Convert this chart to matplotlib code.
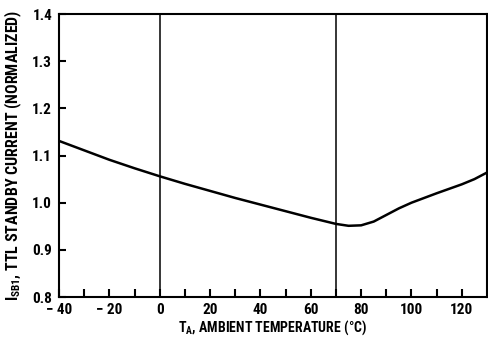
import numpy as np
import matplotlib.pyplot as plt

# curve
temp = [-40, -30, -20, -10, 0, 10, 20, 30, 40, 50, 60, 70, 75, 80, 85, 90, 95, 100, 110, 120, 125, 130]
isb1 = [1.131, 1.111, 1.091, 1.073, 1.056, 1.040, 1.025, 1.010, 0.996, 0.982, 0.968, 0.955, 0.951, 0.952, 0.960, 0.974, 0.988, 1.000, 1.020, 1.039, 1.050, 1.064]

xticks = [-40, -20, 0, 20, 40, 60, 80, 100, 120]
xlabels = ['\u2212 40', '\u2212 20', '0', '20', '40', '60', '80', '100', '120']
yticks = [0.8, 0.9, 1.0, 1.1, 1.2, 1.3, 1.4]
vlines = [0, 70]

plt.rcParams['font.family'] = ['Roboto Condensed', 'DejaVu Sans']
plt.rcParams['font.weight'] = 'bold'
plt.rcParams['mathtext.fontset'] = 'custom'
plt.rcParams['mathtext.rm'] = 'Roboto Condensed:bold'
plt.rcParams['mathtext.it'] = 'Roboto Condensed:bold'
plt.rcParams['mathtext.bf'] = 'Roboto Condensed:bold'
plt.rcParams['mathtext.default'] = 'rm'

fig = plt.figure(figsize=(4.88, 3.38), dpi=100)
ax = fig.add_axes([0.121, 0.1213, 0.877, 0.837])

ax.plot(temp, isb1, color='black', lw=1.8)
for v in vlines:
    ax.axvline(v, color='black', lw=1.1)

ax.set_xlim(-40, 130)
ax.set_ylim(0.8, 1.4)
ax.set_xticks(xticks)
ax.set_xticklabels(xlabels)
ax.set_xticks(np.arange(-30, 130, 10), minor=True)
ax.set_yticks(yticks)
ax.set_yticklabels(['%.1f' % y for y in yticks])

ax.tick_params(axis='x', which='both', direction='in', length=6, width=1.5, labelsize=11, pad=4)
ax.tick_params(axis='y', direction='in', length=5, width=1.5, labelsize=11, pad=5)
for s in ax.spines.values():
    s.set_linewidth(1.5)

ax.set_xlabel('T$_A$, AMBIENT TEMPERATURE (°C)', fontsize=10, fontweight='bold', labelpad=1)
ax.set_ylabel('I$_{SB1}$, TTL STANDBY CURRENT (NORMALIZED)', fontsize=11.5, fontweight='bold', labelpad=6)

plt.savefig('out.png', dpi=100)
